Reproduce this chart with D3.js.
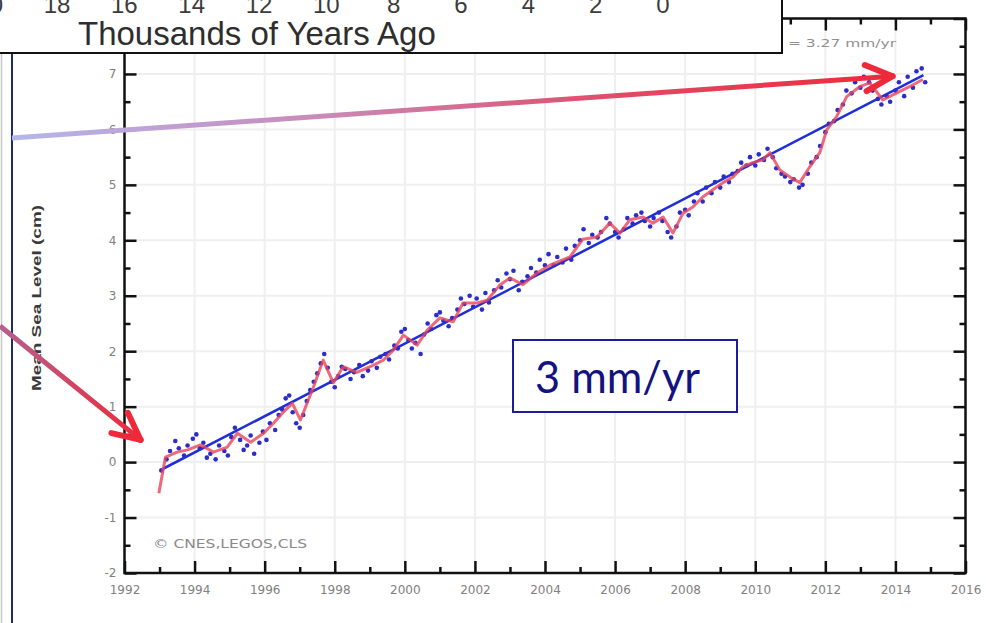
<!DOCTYPE html>
<html>
<head>
<meta charset="utf-8">
<script src="https://cdn.jsdelivr.net/npm/d3@7"></script>
<style>
  body { margin: 0; background: #fff; }
  svg { display: block; }
</style>
</head>
<body>
<svg id="chart"></svg>
<script>
const width = 986;
const height = 623;

// smoothed (red) curve
const smoothYear = [1992.98, 1993.17, 1993.5, 1993.8, 1994.17, 1994.54, 1994.93, 1995.22, 1995.6, 1995.97,
  1996.25, 1996.53, 1996.79, 1997.02, 1997.39, 1997.67, 1997.96, 1998.24, 1998.63, 1999.01,
  1999.39, 1999.67, 1999.96, 2000.35, 2000.64, 2001.0, 2001.38, 2001.66, 2002.06, 2002.35,
  2002.72, 2003.0, 2003.37, 2003.77, 2004.14, 2004.71, 2005.08, 2005.48, 2005.85, 2006.14,
  2006.42, 2006.8, 2007.08, 2007.37, 2007.65, 2007.94, 2008.22, 2008.5, 2008.79, 2009.08,
  2009.36, 2009.65, 2009.93, 2010.22, 2010.42, 2010.7, 2010.99, 2011.27, 2011.56, 2011.84,
  2012.04, 2012.32, 2012.61, 2012.98, 2013.27, 2013.64, 2014.04, 2014.4, 2014.78];
const smoothLevel = [-0.56, 0.09, 0.18, 0.22, 0.31, 0.18, 0.27, 0.52, 0.36, 0.52,
  0.7, 0.9, 1.06, 0.76, 1.35, 1.84, 1.43, 1.72, 1.62, 1.72,
  1.84, 2.02, 2.29, 2.11, 2.38, 2.6, 2.53, 2.87, 2.87, 2.92,
  3.2, 3.32, 3.2, 3.41, 3.55, 3.7, 4.02, 4.06, 4.31, 4.13,
  4.37, 4.42, 4.31, 4.42, 4.13, 4.49, 4.6, 4.78, 4.91, 5.04,
  5.14, 5.33, 5.4, 5.45, 5.58, 5.27, 5.14, 5.04, 5.33, 5.58,
  5.99, 6.23, 6.59, 6.77, 6.84, 6.53, 6.66, 6.77, 6.9];

// 10-day measurements (blue dots)
const dotYear = [1993.05, 1993.2, 1993.3, 1993.45, 1993.55, 1993.7, 1993.8, 1993.95, 1994.05, 1994.15,
  1994.25, 1994.35, 1994.45, 1994.6, 1994.7, 1994.85, 1994.95, 1995.05, 1995.15, 1995.3,
  1995.4, 1995.5, 1995.6, 1995.7, 1995.85, 1995.95, 1996.05, 1996.15, 1996.3, 1996.4,
  1996.5, 1996.6, 1996.7, 1996.8, 1996.9, 1997.0, 1997.1, 1997.2, 1997.3, 1997.4,
  1997.5, 1997.6, 1997.7, 1997.8, 1997.9, 1998.0, 1998.1, 1998.2, 1998.3, 1998.45,
  1998.55, 1998.7, 1998.8, 1998.95, 1999.05, 1999.2, 1999.3, 1999.45, 1999.55, 1999.7,
  1999.8, 1999.9, 2000.0, 2000.1, 2000.2, 2000.3, 2000.45, 2000.55, 2000.65, 2000.75,
  2000.9, 2001.0, 2001.1, 2001.25, 2001.35, 2001.5, 2001.6, 2001.7, 2001.85, 2001.95,
  2002.05, 2002.2, 2002.3, 2002.4, 2002.55, 2002.65, 2002.75, 2002.9, 2003.0, 2003.1,
  2003.25, 2003.35, 2003.5, 2003.6, 2003.75, 2003.85, 2004.0, 2004.1, 2004.25, 2004.35,
  2004.5, 2004.6, 2004.75, 2004.85, 2005.0, 2005.1, 2005.25, 2005.35, 2005.5, 2005.6,
  2005.75, 2005.85, 2006.0, 2006.1, 2006.25, 2006.35, 2006.5, 2006.6, 2006.75, 2006.85,
  2007.0, 2007.1, 2007.25, 2007.35, 2007.5, 2007.6, 2007.75, 2007.85, 2008.0, 2008.1,
  2008.25, 2008.35, 2008.5, 2008.6, 2008.75, 2008.85, 2009.0, 2009.1, 2009.25, 2009.35,
  2009.5, 2009.6, 2009.75, 2009.85, 2010.0, 2010.1, 2010.25, 2010.35, 2010.5, 2010.6,
  2010.75, 2010.85, 2011.0, 2011.1, 2011.25, 2011.35, 2011.5, 2011.6, 2011.75, 2011.85,
  2012.0, 2012.1, 2012.25, 2012.35, 2012.5, 2012.6, 2012.75, 2012.85, 2013.0, 2013.1,
  2013.25, 2013.35, 2013.5, 2013.6, 2013.75, 2013.85, 2014.0, 2014.1, 2014.25, 2014.35,
  2014.5, 2014.6, 2014.75, 2014.85];
const dotLevel = [-0.15, 0.05, 0.2, 0.38, 0.25, 0.12, 0.3, 0.42, 0.5, 0.25,
  0.35, 0.08, 0.15, 0.05, 0.3, 0.2, 0.12, 0.45, 0.62, 0.4,
  0.22, 0.3, 0.48, 0.15, 0.35, 0.55, 0.4, 0.7, 0.58, 0.85,
  0.95, 1.15, 1.2, 0.9, 0.7, 0.62, 0.85, 1.1, 1.3, 1.45,
  1.6, 1.78, 1.95, 1.7, 1.45, 1.35, 1.55, 1.72, 1.68, 1.5,
  1.62, 1.75, 1.55, 1.65, 1.82, 1.7, 1.9, 1.95, 1.85, 2.1,
  2.05, 2.35, 2.4, 2.2, 2.05, 2.15, 1.95, 2.3, 2.5, 2.4,
  2.65, 2.7, 2.55, 2.45, 2.6, 2.75, 2.95, 2.85, 3.0, 2.8,
  2.95, 2.75, 3.05, 2.88, 3.1, 3.28, 3.15, 3.4, 3.3, 3.45,
  3.1, 3.25, 3.35, 3.5, 3.42, 3.65, 3.55, 3.75, 3.55, 3.7,
  3.6, 3.85, 3.65, 3.9, 4.0, 4.2, 3.95, 4.1, 4.05, 4.15,
  4.4, 4.3, 4.15, 4.05, 4.2, 4.4, 4.3, 4.45, 4.5, 4.35,
  4.25, 4.4, 4.5, 4.35, 4.15, 4.05, 4.25, 4.5, 4.55, 4.45,
  4.7, 4.85, 4.7, 4.95, 4.85, 5.05, 4.95, 5.15, 5.05, 5.2,
  5.25, 5.4, 5.35, 5.5, 5.35, 5.55, 5.45, 5.65, 5.5, 5.3,
  5.2, 5.15, 5.05, 5.1, 4.95, 5.0, 5.2, 5.4, 5.5, 5.7,
  5.95, 6.1, 6.15, 6.35, 6.45, 6.7, 6.65, 6.85, 6.75, 6.95,
  6.85, 6.7, 6.55, 6.45, 6.6, 6.5, 6.7, 6.85, 6.6, 6.95,
  6.75, 7.05, 7.1, 6.85];

// linear trend (3.27 mm/yr)
const trendYear = [1993.1, 2014.8];
const trendLevel = [-0.12, 6.98];

const majorYears = d3.range(1992, 2017, 2);
const minorYears = d3.range(1993, 2016, 2);
const majorLevels = d3.range(-2, 9, 1);
const labelLevels = d3.range(-2, 8, 1);
const minorLevels = d3.range(-1.5, 8, 1);
const thousandsTicks = [20, 18, 16, 14, 12, 10, 8, 6, 4, 2, 0];

const svg = d3.select("#chart")
  .attr("width", width)
  .attr("height", height)
  .style("background", "#fff");

const x = d3.scaleLinear().domain([1992, 2016]).range([124.5, 965.5]);
const y = d3.scaleLinear().domain([-2, 8]).range([573, 18.5]);

const plot = svg.append("g");

// faint grid
plot.append("g")
  .selectAll("line")
  .data(majorYears.slice(1, -1))
  .join("line")
  .attr("x1", d => x(d)).attr("x2", d => x(d))
  .attr("y1", y(8)).attr("y2", y(-2))
  .attr("stroke", "#efefef").attr("stroke-width", 2);
plot.append("g")
  .selectAll("line")
  .data(majorLevels.slice(1, -1))
  .join("line")
  .attr("x1", x(1992)).attr("x2", x(2016))
  .attr("y1", d => y(d)).attr("y2", d => y(d))
  .attr("stroke", "#efefef").attr("stroke-width", 2);

// axes (ticks pointing inward)
function styleAxis(g) {
  g.select(".domain").remove();
  g.selectAll(".tick line").attr("stroke", "#111").attr("stroke-width", 2.5);
  g.selectAll(".tick text")
    .attr("fill", "#808080")
    .style("font-family", "DejaVu Sans, sans-serif")
    .style("font-size", "12px");
}

plot.append("g")
  .attr("transform", `translate(0,${y(-2)})`)
  .call(d3.axisBottom(x).tickValues(majorYears).tickSize(-12).tickPadding(12).tickFormat(d => String(d)))
  .call(styleAxis);
plot.append("g")
  .attr("transform", `translate(0,${y(-2)})`)
  .call(d3.axisBottom(x).tickValues(minorYears).tickSize(-6).tickFormat(""))
  .call(styleAxis);
plot.append("g")
  .attr("transform", `translate(0,${y(8)})`)
  .call(d3.axisTop(x).tickValues(majorYears).tickSize(-12).tickFormat(""))
  .call(styleAxis);
plot.append("g")
  .attr("transform", `translate(0,${y(8)})`)
  .call(d3.axisTop(x).tickValues(minorYears).tickSize(-6).tickFormat(""))
  .call(styleAxis);

plot.append("g")
  .attr("transform", `translate(${x(1992)},0)`)
  .call(d3.axisLeft(y).tickValues(labelLevels).tickSize(-12).tickPadding(8).tickFormat(d => String(d)))
  .call(styleAxis);
plot.append("g")
  .attr("transform", `translate(${x(1992)},0)`)
  .call(d3.axisLeft(y).tickValues(minorLevels).tickSize(-6).tickFormat(""))
  .call(styleAxis);
plot.append("g")
  .attr("transform", `translate(${x(2016)},0)`)
  .call(d3.axisRight(y).tickValues(majorLevels).tickSize(-12).tickFormat(""))
  .call(styleAxis);
plot.append("g")
  .attr("transform", `translate(${x(2016)},0)`)
  .call(d3.axisRight(y).tickValues(minorLevels).tickSize(-6).tickFormat(""))
  .call(styleAxis);

plot.append("rect")
  .attr("x", x(1992)).attr("y", y(8))
  .attr("width", x(2016) - x(1992)).attr("height", y(-2) - y(8))
  .attr("fill", "none").attr("stroke", "#111").attr("stroke-width", 2.5);

// data
const dots = dotYear.map((d, i) => ({ year: d, level: dotLevel[i] }));
const smooth = smoothYear.map((d, i) => ({ year: d, level: smoothLevel[i] }));
const trend = trendYear.map((d, i) => ({ year: d, level: trendLevel[i] }));

const line = d3.line().x(d => x(d.year)).y(d => y(d.level));

plot.append("path")
  .datum(trend)
  .attr("d", line)
  .attr("fill", "none")
  .attr("stroke", "#1f2fd8")
  .attr("stroke-width", 2.6);

plot.append("g")
  .selectAll("circle")
  .data(dots)
  .join("circle")
  .attr("cx", d => x(d.year))
  .attr("cy", d => y(d.level))
  .attr("r", 2.3)
  .attr("fill", "#2c2cc8");

plot.append("path")
  .datum(smooth)
  .attr("d", line)
  .attr("fill", "none")
  .attr("stroke", "#e8445a")
  .attr("stroke-width", 3)
  .attr("stroke-linejoin", "round")
  .attr("opacity", 0.8);

// y label and credits
plot.append("text")
  .attr("transform", "translate(41,298) rotate(-90)")
  .attr("text-anchor", "middle")
  .attr("textLength", 186)
  .attr("lengthAdjust", "spacingAndGlyphs")
  .style("font-family", "Liberation Sans, Arial, sans-serif")
  .style("font-weight", "bold")
  .style("font-size", "13px")
  .attr("fill", "#3a3a3a")
  .text("Mean Sea Level (cm)");

plot.append("text")
  .attr("x", 153).attr("y", 548)
  .attr("textLength", 154)
  .attr("lengthAdjust", "spacingAndGlyphs")
  .style("font-family", "DejaVu Sans, sans-serif")
  .style("font-size", "12px")
  .attr("fill", "#8a8a8a")
  .text("© CNES,LEGOS,CLS");

plot.append("text")
  .attr("x", 788).attr("y", 47)
  .attr("textLength", 108)
  .attr("lengthAdjust", "spacingAndGlyphs")
  .style("font-family", "DejaVu Sans, sans-serif")
  .style("font-size", "11px")
  .attr("fill", "#909090")
  .text("= 3.27 mm/yr");

// overlay panel: thousands of years axis
const over = svg.append("g");
over.append("rect")
  .attr("x", -3).attr("y", -3)
  .attr("width", 785).attr("height", 56)
  .attr("fill", "#fff").attr("stroke", "#111").attr("stroke-width", 2);

const kx = d3.scaleLinear().domain([0, 18]).range([663, 57]);
over.selectAll("text.k")
  .data(thousandsTicks)
  .join("text")
  .attr("class", "k")
  .attr("x", d => kx(d))
  .attr("y", 13)
  .attr("text-anchor", "middle")
  .style("font-family", "Liberation Sans, Arial, sans-serif")
  .style("font-size", "24px")
  .attr("fill", "#3c3c3c")
  .text(d => d);

over.append("text")
  .attr("x", 78).attr("y", 45)
  .style("font-family", "Liberation Sans, Arial, sans-serif")
  .style("font-size", "33px")
  .attr("fill", "#2e2e2e")
  .text("Thousands of Years Ago");

// left frame edges of the neighbouring figure
svg.append("line")
  .attr("x1", 1.5).attr("x2", 1.5).attr("y1", 54).attr("y2", height)
  .attr("stroke", "#c8c8c8").attr("stroke-width", 1.5);
svg.append("line")
  .attr("x1", 12).attr("x2", 12).attr("y1", 54).attr("y2", height)
  .attr("stroke", "#1c2c6c").attr("stroke-width", 2);

// arrows
const defs = svg.append("defs");
const g1 = defs.append("linearGradient").attr("id", "arrowGrad1")
  .attr("gradientUnits", "userSpaceOnUse")
  .attr("x1", 12).attr("y1", 0).attr("x2", 893).attr("y2", 0);
g1.append("stop").attr("offset", 0).attr("stop-color", "#b4b6ee");
g1.append("stop").attr("offset", 0.35).attr("stop-color", "#c98ab8");
g1.append("stop").attr("offset", 0.7).attr("stop-color", "#e04a64");
g1.append("stop").attr("offset", 1).attr("stop-color", "#f0283a");

const g2 = defs.append("linearGradient").attr("id", "arrowGrad2")
  .attr("gradientUnits", "userSpaceOnUse")
  .attr("x1", 0).attr("y1", 326).attr("x2", 140).attr("y2", 440);
g2.append("stop").attr("offset", 0).attr("stop-color", "#b4608f");
g2.append("stop").attr("offset", 1).attr("stop-color", "#ee2a3a");

function arrow(x1, y1, x2, y2, stroke) {
  const g = svg.append("g");
  g.append("line")
    .attr("x1", x1).attr("y1", y1).attr("x2", x2).attr("y2", y2)
    .attr("stroke", stroke).attr("stroke-width", 5);
  const ang = Math.atan2(y1 - y2, x1 - x2);
  [-1, 1].forEach(s => {
    const a = ang + s * 0.45;
    g.append("line")
      .attr("x1", x2).attr("y1", y2)
      .attr("x2", x2 + 30 * Math.cos(a)).attr("y2", y2 + 30 * Math.sin(a))
      .attr("stroke", "#ee2a3a").attr("stroke-width", 6)
      .attr("stroke-linecap", "round");
  });
}

arrow(12, 138, x(2013.92), y(6.96), "url(#arrowGrad1)");
arrow(0, 326, x(1992.46), y(0.4), "url(#arrowGrad2)");

// rate box
const box = svg.append("g");
box.append("rect")
  .attr("x", 513).attr("y", 340).attr("width", 224).attr("height", 72)
  .attr("fill", "#fff").attr("stroke", "#1c1c9c").attr("stroke-width", 2);
box.append("text")
  .attr("x", 535).attr("y", 393)
  .attr("textLength", 165)
  .attr("lengthAdjust", "spacingAndGlyphs")
  .style("font-family", "Comic Sans MS, Lato, sans-serif")
  .style("font-size", "44px")
  .attr("fill", "#13137f")
  .text("3 mm/yr");
</script>
</body>
</html>
